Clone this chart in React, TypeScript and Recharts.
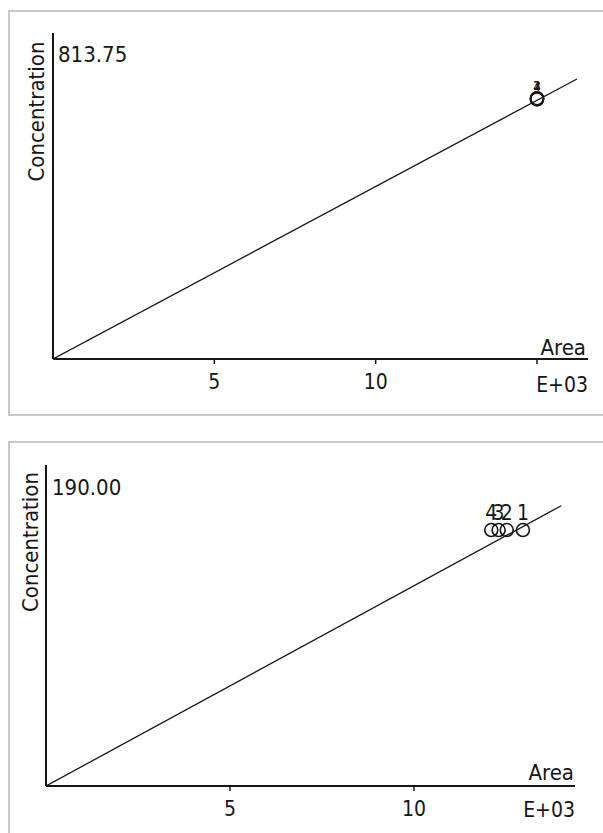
import React from 'react';
import { ScatterChart, Scatter, XAxis, YAxis, LabelList } from 'recharts';

// Panel 1 (Area in E+03, Concentration)
const p1Ids = ['4', '1', '2', '3'];
const p1Area = [15.0, 15.0, 15.0, 15.0];
const p1Conc = [648, 649, 650, 651];
const p1LineArea = [0, 16.24];
const p1LineConc = [0, 699];
const p1XTicks = [5, 10, 15];
const p1XTickLabels = ['5', '10', ''];
const p1YMax = 813.75;
const p1XMax = 16.58;
const p1YLabel = '813.75';

// Panel 2
const p2Ids = ['4', '3', '2', '1'];
const p2Area = [12.1, 12.3, 12.52, 12.96];
const p2Conc = [151.5, 151.5, 151.5, 151.5];
const p2LineArea = [0, 14.0];
const p2LineConc = [0, 165.9];
const p2XTicks = [5, 10];
const p2XTickLabels = ['5', '10'];
const p2YMax = 190;
const p2XMax = 14.375;
const p2YLabel = '190.00';
const p2MinorTicks = [4.0, 10.9, 17.8, 24.7, 31.6, 38.5, 45.4, 52.3, 59.2, 66.1, 73.0, 79.9, 86.8, 93.7, 100.6, 107.5, 114.4, 121.3, 128.2, 135.1, 142.0, 148.9, 155.8, 162.7, 169.6, 176.5, 183.4];

const xTitle = 'Area';
const yTitle = 'Concentration';
const expLabel = 'E+03';

const FONT = "'DejaVu Sans Condensed', 'DejaVu Sans', sans-serif";
const INK = '#161616';

const pts = (ids: string[], xs: number[], ys: number[]) => ids.map((id, i) => ({ id, x: xs[i], y: ys[i] }));
const linePts = (xs: number[], ys: number[]) => xs.map((x, i) => ({ x, y: ys[i] }));

const Circle = (props: any) => (
  <circle cx={props.cx} cy={props.cy} r={6.5} fill="none" stroke={INK} strokeWidth={1.6} />
);
const NoShape = () => <g />;

function Panel(props: {
  top: number; height: number; margin: any; xMax: number; yMax: number;
  ticks: number[]; tickLabels: string[]; points: any[]; line: any[]; labelSize: number;
  labelOffset: number; minorTicks?: number[];
}) {
  const { top, height, margin, xMax, yMax, ticks, tickLabels, points, line, labelSize, labelOffset, minorTicks } = props;
  return (
    <div style={{ position: 'absolute', left: 0, top, width: 603, height }}>
      <ScatterChart width={603} height={height} margin={margin}>
        <XAxis
          type="number"
          dataKey="x"
          domain={[0, xMax]}
          allowDataOverflow
          ticks={ticks}
          tickFormatter={(v: number) => tickLabels[ticks.indexOf(v)] ?? ''}
          height={30}
          tickSize={5}
          tickMargin={10}
          axisLine={{ stroke: INK, strokeWidth: 2 }}
          tickLine={{ stroke: INK, strokeWidth: 1.5 }}
          tick={{ fill: INK, fontSize: 21, fontFamily: FONT }}
        />
        <YAxis
          type="number"
          dataKey="y"
          domain={[0, yMax]}
          allowDataOverflow
          width={4}
          ticks={minorTicks ?? [0]}
          tick={false}
          tickSize={3}
          tickLine={minorTicks ? { stroke: '#8a8a8a', strokeWidth: 1 } : false}
          axisLine={{ stroke: INK, strokeWidth: 2 }}
        />
        <Scatter data={line} line={{ stroke: INK, strokeWidth: 1.3 }} shape={NoShape} isAnimationActive={false} />
        <Scatter data={points} shape={Circle} isAnimationActive={false}>
          <LabelList dataKey="id" position="top" offset={labelOffset} fill={INK} fontSize={labelSize} fontFamily={FONT} />
        </Scatter>
      </ScatterChart>
    </div>
  );
}

export default function App() {
  return (
    <div style={{ position: 'absolute', left: 0, top: 0, width: 603, height: 833, background: '#fff', overflow: 'hidden', fontFamily: FONT }}>
      {/* panel frames */}
      <div style={{ position: 'absolute', left: 8, top: 10, width: 620, height: 402, border: '2px solid #c8c8c8' }} />
      <div style={{ position: 'absolute', left: 8, top: 441, width: 620, height: 420, border: '2px solid #c8c8c8' }} />
      <Panel
        top={0}
        height={420}
        margin={{ top: 33, right: 15, bottom: 31, left: 49 }}
        xMax={p1XMax}
        yMax={p1YMax}
        ticks={p1XTicks}
        tickLabels={p1XTickLabels}
        points={pts(p1Ids, p1Area, p1Conc)}
        line={linePts(p1LineArea, p1LineConc)}
        labelSize={13}
        labelOffset={4}
      />
      <Panel
        top={420}
        height={413}
        margin={{ top: 45, right: 28, bottom: 17, left: 42 }}
        xMax={p2XMax}
        yMax={p2YMax}
        ticks={p2XTicks}
        tickLabels={p2XTickLabels}
        points={pts(p2Ids, p2Area, p2Conc)}
        line={linePts(p2LineArea, p2LineConc)}
        labelSize={21}
        labelOffset={6}
        minorTicks={p2MinorTicks}
      />
      <svg width={603} height={833} style={{ position: 'absolute', left: 0, top: 0, pointerEvents: 'none' }}>
        <g fill={INK} fontFamily={FONT} fontSize={22}>
          <text x={58} y={62}>{p1YLabel}</text>
          <text transform="translate(36,111.5) rotate(-90)" textAnchor="middle" dominantBaseline="central">{yTitle}</text>
          <text x={586} y={355} textAnchor="end">{xTitle}</text>
          <text x={588} y={392} textAnchor="end" fontSize={21}>{expLabel}</text>

          <text x={52} y={495}>{p2YLabel}</text>
          <text transform="translate(30,542) rotate(-90)" textAnchor="middle" dominantBaseline="central">{yTitle}</text>
          <text x={574} y={780} textAnchor="end">{xTitle}</text>
          <text x={575} y={817} textAnchor="end" fontSize={21}>{expLabel}</text>
        </g>
      </svg>
    </div>
  );
}
